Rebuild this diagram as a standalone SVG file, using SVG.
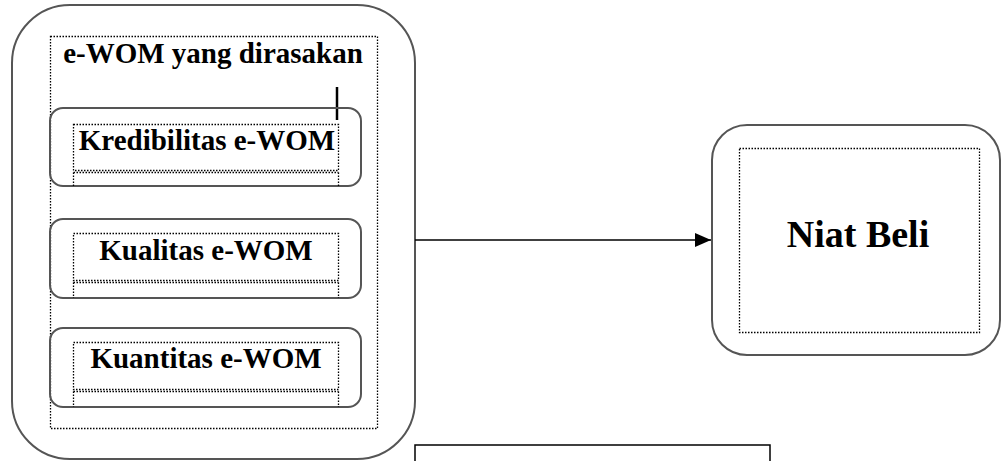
<svg xmlns="http://www.w3.org/2000/svg" width="1001" height="461" viewBox="0 0 1001 461">
<style>
.rb{fill:none;stroke:#555;stroke-width:2}
.dot{fill:none;stroke:#000;stroke-width:1.3;stroke-dasharray:1.5 1.5}
.t{font-family:"Liberation Serif","Times New Roman",serif;font-weight:bold;fill:#000}
</style>
<defs>
<marker id="ah" markerWidth="16" markerHeight="14" refX="16" refY="7" orient="auto" markerUnits="userSpaceOnUse">
<path d="M0,0 L16,7 L0,14 Z" fill="#000"/>
</marker>
</defs>
<rect width="1001" height="461" fill="#fff"/>
<g id="ewom">
<rect class="rb" x="12" y="5" width="403" height="454" rx="58" ry="58"/>
<rect class="dot" x="50.5" y="36.5" width="327" height="392"/>
<text class="t" x="213" y="63" font-size="29" text-anchor="middle">e-WOM yang dirasakan</text>
<line x1="337" y1="87" x2="337" y2="120" stroke="#000" stroke-width="2.5"/>
</g>
<g id="kredibilitas">
<rect class="rb" x="50" y="108" width="311" height="78" rx="13" ry="13"/>
<rect class="dot" x="73.5" y="124.5" width="265" height="46"/>
<path class="dot" d="M73.5,172.5 H338.5 M73.5,172.5 V186 M338.5,172.5 V186"/>
<text class="t" x="207" y="150" font-size="29" text-anchor="middle">Kredibilitas e-WOM</text>
</g>
<g id="kualitas">
<rect class="rb" x="50" y="219" width="311" height="79" rx="13" ry="13"/>
<rect class="dot" x="73.5" y="233.5" width="265" height="47"/>
<path class="dot" d="M73.5,282.5 H338.5 M73.5,282.5 V298 M338.5,282.5 V298"/>
<text class="t" x="206" y="260" font-size="29" text-anchor="middle">Kualitas e-WOM</text>
</g>
<g id="kuantitas">
<rect class="rb" x="50" y="328" width="311" height="79" rx="13" ry="13"/>
<rect class="dot" x="73.5" y="342.5" width="265" height="47"/>
<path class="dot" d="M73.5,391.5 H338.5 M73.5,391.5 V407 M338.5,391.5 V407"/>
<text class="t" x="206" y="368" font-size="29" text-anchor="middle">Kuantitas e-WOM</text>
</g>
<g id="niat-beli">
<rect class="rb" x="712" y="125" width="288" height="230" rx="35" ry="35"/>
<rect class="dot" x="739.5" y="148.5" width="240" height="184"/>
<text class="t" x="858" y="247" font-size="38" text-anchor="middle">Niat Beli</text>
</g>
<g id="box-bottom">
<rect x="415" y="445" width="355" height="30" fill="none" stroke="#000" stroke-width="1.5"/>
</g>
<g id="connectors">
<line x1="415" y1="240" x2="711" y2="240" stroke="#000" stroke-width="1.5" marker-end="url(#ah)"/>
</g>
</svg>
